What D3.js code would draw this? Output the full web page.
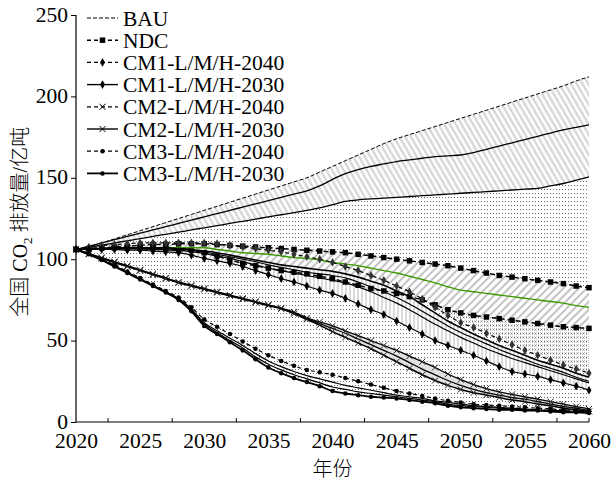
<!DOCTYPE html>
<html>
<head>
<meta charset="utf-8">
<script src="https://cdn.jsdelivr.net/npm/d3@7"></script>
<style>
body{margin:0;background:#fff}
text{font-family:"Liberation Serif","Times New Roman",serif;fill:#000}
</style>
</head>
<body>
<div id="chart"></div>
<script>
var width = 611, height = 484;
var margin = {top: 15, right: 22, bottom: 62, left: 76};

// years on the x axis
var years = [2020,2021,2022,2023,2024,2025,2026,2027,2028,2029,
  2030,2031,2032,2033,2034,2035,2036,2037,2038,2039,
  2040,2041,2042,2043,2044,2045,2046,2047,2048,2049,
  2050,2051,2052,2053,2054,2055,2056,2057,2058,2059,2060];
var xLabels = [2020,2025,2030,2035,2040,2045,2050,2055,2060];
var xTickMarks = [2022.5,2027.5,2032.5,2037.5,2042.5,2047.5,2052.5,2057.5,2060];
var yTicks = [0,50,100,150,200,250];

// BAU range
var bau = [106,107.5,110,112.5,115,117.5,120,122.5,125,127.5,
  130,132.5,135,137.5,140,142.5,145,147.5,150,153.5,
  157,160.5,164,167.5,171,174,176.5,179,181.5,184,
  186.5,189,191.5,194,196.5,199,201.5,204,206.5,209.5,212];
var bauMid = [106,108,110,112,114,116,118,120,122,124,
  126,128,130,132,134,136,138,140,142,145,
  149,152.5,155,157,158.5,160,161,162,163,163.5,
  164,165.5,167.5,169.5,171.5,173.5,175.5,177.5,179.5,181,182.5];
var bauLow = [106,107.3,108.6,110,111.3,112.6,114,115.3,116.6,118,
  119.3,120.6,122,123.3,124.6,126,127.3,128.6,130,131.5,
  133.5,135.5,136.5,137,137.5,138,138.5,139,139.5,140,
  140.5,141,141.5,142,142.5,143,143.5,145,146.5,148.5,150.5];

// NDC range
var ndcHigh = [106,106.5,107,107.5,108,108.5,109,109,109.5,109.5,
  109.5,109,108.5,108,107.5,107,106.5,106,105.5,105,
  104.5,104,103,102,101,100,99,98,97,96,
  94.5,93,91.5,90,89,88,87,86,85,83.5,82.5];
var ndcLow = [106,106.5,107,107,107,107,107,106.5,106,105.5,
  104,102,99.5,97.5,96,94.5,93,92,91,89.5,
  88,86,84,82,80.5,79,77,75,72,69,
  67,65.5,64.5,63.5,62.5,61.5,60.5,59.5,58.5,58,57.5];
var ndcMid = [106,106.3,106.6,107,107,107,107,107,107,107,
  107,106,105,104,103.5,103,102,101,100.5,99.5,
  98,97,96,94.5,93,91.5,89.5,87.5,85.5,83,
  81,80,79,78,77,76,75,74,73,71.5,70.5];

// CM1
var cm1H2040 = [106,107.5,108.5,109,109.5,110,110,110,110,110,
  110,109.5,108.5,107.5,106.5,105.5,104.5,103,101.5,100,
  98,95.5,93,90,87,83.5,80,75.5,70.5,65.5,
  61,58,54.5,51,47.5,44,41,38,35,32.5,30];
var cm1M2040 = [106,106.3,106.6,107,107,107,107,107,106.5,106,
  105,104,102.5,101,99.5,98,96.5,95.5,94.5,93.5,
  92.5,91,89,86.5,84,80.5,77,72,67,62,
  58,54,50.5,47,44,41,38,35.5,33,30,27.5];
var cm1H2030 = [106,106.2,106.4,106.6,106.6,106.6,106.5,106.3,106,105.5,
  104.5,103,101.5,100,98.5,96.5,95,93.5,92,91,
  90,88.5,86,83,80,76.5,72.5,68,63.5,59,
  55,51.5,48,44.5,41.5,38.5,35.5,33,30.5,27.5,25];
var cm1M2030 = [106,106.1,106.2,106.3,106.3,106.2,106,105.7,105.3,104.7,
  103.5,102,100.5,98.5,96.5,94.5,93,91.5,90,88.5,
  87,85.5,83,80,76.5,73,69,64.5,60,56,
  52,48.5,45,42,39,36.5,34,31.5,29,26.5,24];
var cm1L2030 = [106,106,106,106,105.5,105.5,105,104.5,104,102.5,
  100.5,99,97.5,95.5,93,90.5,88,86,83.5,81,
  79,76,72.5,69,66,62,58,54,50,47,
  44,41,37.5,34,31,29.5,28,26,24,22,19.5];

// CM2
var cm2H2040 = [106,103.5,101,98.5,96,93.5,91,88.5,86,84,
  82,80,78,76,74,72,70,67.5,64,61.5,
  59,56,53,50,47,44,40.5,37,33.5,29.5,
  26,23,20.5,18.5,17,15.5,14,12.5,11,9.5,8];
var cm2M2030 = [106,103.2,100.7,98.2,95.7,93.2,90.7,88.2,85.7,83.7,
  81.7,79.7,77.7,75.7,73.7,71.7,69.7,67.2,63.5,60.5,
  57.5,54.5,51,47.5,44,40.5,36.5,32.5,29,25.5,
  22.5,20,18,16.5,15,14,12.5,11,9.5,8.5,7];
var cm2L2030 = [106,103,100.5,98,95.5,93,90.5,88,85.5,83.5,
  81.5,79.5,77.5,75.5,73.5,71.5,69.5,66.5,63,59.5,
  55.5,52,48.5,45,41,37,33,29,25.5,22.5,
  20,18,16.5,15,13.5,12.5,11,10,8.5,7.5,6.5];

// CM3
var cm3H2040 = [106,103.5,100,96.5,92.5,88.5,84.5,80.5,76.5,70.5,
  63,58.5,54,49.5,45,41,37.5,34.5,32,30.5,
  29,27,25,23,21,19,17.5,16,14.5,13,
  12,11,10.5,10,9.5,9,8.5,8,7.5,7,7];
var cm3H2030 = [106,103.2,99.7,96,92,88,84,80,75.8,69.3,
  61,56,51.5,47,42,37.5,34,31,28.5,26.5,
  24.5,22.5,21,19.5,18,16.5,15.5,14.5,13,12,
  11,10,9.5,9,8.5,8,7.5,7,7,6.5,6.5];
var cm3M2030 = [106,103.1,99.6,95.7,91.7,87.7,83.7,79.7,75.4,68.6,
  60,55,50,45.5,40,35.5,32,29,26.5,24,
  21.5,20,18.5,17.5,16.5,15.5,14.5,13.5,12.5,11,
  10,9.5,9,8.5,8,7.5,7,7,6.5,6,6];
var cm3L2030 = [106,103,99.5,95.5,91.5,87.5,83.5,79.5,75,68,
  59,54,49,44,38.5,33.5,30,27,24.5,22,
  19,17.5,16.5,15.5,15,14.5,13.5,12.5,11.5,10,
  9,8.5,8,7.5,7.5,7,7,6.5,6,6,5.5];

var legendNames = ["BAU","NDC","CM1-L/M/H-2040","CM1-L/M/H-2030",
  "CM2-L/M/H-2040","CM2-L/M/H-2030","CM3-L/M/H-2040","CM3-L/M/H-2030"];

var svg = d3.select("#chart").append("svg")
  .attr("width", width)
  .attr("height", height);

var x = d3.scaleLinear().domain([2020, 2060]).range([margin.left, width - margin.right]);
var y = d3.scaleLinear().domain([0, 250]).range([height - margin.bottom, margin.top]);
var curve = d3.curveMonotoneX;
var serif = '"Liberation Serif","Times New Roman",serif';

// fill patterns
var defs = svg.append("defs");
var pDots = defs.append("pattern").attr("id","dots").attr("patternUnits","userSpaceOnUse")
  .attr("width",3).attr("height",4);
pDots.append("rect").attr("x",1).attr("y",1).attr("width",1).attr("height",1).attr("fill","#6a6a6a");

var pFine = defs.append("pattern").attr("id","fine").attr("patternUnits","userSpaceOnUse")
  .attr("width",2).attr("height",2);
pFine.append("rect").attr("width",1).attr("height",1).attr("fill","#c8c8c8");

function hatch(id, angle, gap, sw, color){
  var p = defs.append("pattern").attr("id",id).attr("patternUnits","userSpaceOnUse")
    .attr("width",gap).attr("height",gap)
    .attr("patternTransform","rotate("+angle+")");
  p.append("rect").attr("width",gap).attr("height",gap).attr("fill","#fff");
  p.append("line").attr("x1",gap/2).attr("x2",gap/2).attr("y1",0).attr("y2",gap)
    .attr("stroke",color).attr("stroke-width",sw);
}
hatch("hBau", -30, 5, 2, "#cfcfcf");
hatch("hNdc", 45, 5.5, 2, "#c2c2c2");
hatch("hCm1", 0, 4, 1, "#b8b8b8");

function band(up, lo, fill, from){
  var pts = years.map(function(yr, i){ return {x: yr, a: up[i], b: lo[i]}; })
    .filter(function(d){ return d.x >= from; });
  svg.append("path").datum(pts)
    .attr("fill", fill)
    .attr("d", d3.area().curve(curve)
      .x(function(d){ return x(d.x); })
      .y0(function(d){ return y(d.b); })
      .y1(function(d){ return y(d.a); }));
}

band(bauLow, cm3L2030, "url(#dots)", 2020);
band(bau, bauLow, "url(#hBau)", 2020);
band(ndcHigh, ndcLow, "url(#hNdc)", 2020);
band(ndcLow, cm1H2040, "url(#fine)", 2046);
band(cm1M2040, cm1L2030, "url(#hCm1)", 2020);
band(cm2H2040, cm2L2030, "#e2e2e2", 2020);

// series lines
var marker = {
  square: d3.symbol().type(d3.symbolSquare).size(30),
  diamond: d3.symbol().type(d3.symbolDiamond).size(22),
  cross: d3.symbol().type(d3.symbolX || d3.symbolCross).size(26),
  dot: d3.symbol().type(d3.symbolCircle).size(16)
};

var series = [
  {v: bau, dash: "4,2", w: 1},
  {v: bauMid, dash: null, w: 1.3},
  {v: bauLow, dash: null, w: 1.3},
  {v: ndcHigh, dash: "5,3", w: 1.5, m: "square"},
  {v: ndcLow, dash: "5,3", w: 1.5, m: "square"},
  {v: ndcMid, dash: null, w: 1.4, color: "#3c9a00"},
  {v: cm1H2040, dash: "4,3", w: 1.2, m: "diamond", mc: "#333"},
  {v: cm1M2040, dash: null, w: 1.6},
  {v: cm1H2030, dash: null, w: 1.2},
  {v: cm1M2030, dash: null, w: 1.2},
  {v: cm1L2030, dash: null, w: 1.2, m: "diamond"},
  {v: cm2H2040, dash: null, w: 1.3, m: "cross"},
  {v: cm2M2030, dash: null, w: 1.3},
  {v: cm2L2030, dash: null, w: 1.5, m: "cross"},
  {v: cm3H2040, dash: "4,3", w: 1.2, m: "dot"},
  {v: cm3H2030, dash: null, w: 1.2},
  {v: cm3M2030, dash: null, w: 1.2},
  {v: cm3L2030, dash: null, w: 1.8, m: "dot"}
];

var line = d3.line().curve(curve)
  .x(function(d, i){ return x(years[i]); })
  .y(function(d){ return y(d); });

series.forEach(function(s){
  svg.append("path").datum(s.v)
    .attr("fill","none")
    .attr("stroke", s.color || "#000")
    .attr("stroke-width", s.w)
    .attr("stroke-dasharray", s.dash)
    .attr("d", line);
  if(s.m){
    svg.append("g").selectAll("path")
      .data(s.v)
      .enter()
      .append("path")
      .attr("transform", function(d, i){ return "translate(" + x(years[i]) + "," + y(d) + ")"; })
      .attr("d", marker[s.m])
      .attr("fill", s.m == "cross" ? "none" : (s.mc || "#000"))
      .attr("stroke", s.m == "cross" ? "#222" : "none")
      .attr("stroke-width", 1);
  }
});

// axes
var axisY = svg.append("g")
  .attr("transform","translate(" + margin.left + ",0)")
  .call(d3.axisLeft(y).tickValues(yTicks).tickSize(5).tickPadding(3));
var axisX = svg.append("g")
  .attr("transform","translate(0," + (height - margin.bottom) + ")")
  .call(d3.axisBottom(x).tickValues(xLabels).tickSize(0).tickPadding(11).tickFormat(d3.format("d")));
svg.append("g")
  .attr("transform","translate(0," + (height - margin.bottom) + ")")
  .selectAll("line").data(xTickMarks).enter().append("line")
  .attr("x1", function(d){ return x(d); }).attr("x2", function(d){ return x(d); })
  .attr("y1", 0).attr("y2", -4).attr("stroke","#000").attr("stroke-width",1);

[axisX, axisY].forEach(function(a){
  a.select(".domain").attr("stroke","#000").attr("stroke-width",1.2);
  a.selectAll(".tick line").attr("stroke","#000");
  a.selectAll("text").attr("font-size","21.5px").attr("font-family", serif);
});
axisY.selectAll("text").attr("dy","0.28em");
axisY.select(".domain").attr("d","M0," + y(250) + "V" + y(0));
axisX.select(".domain").attr("d","M" + x(2020) + ",0H" + x(2060));

// axis titles
svg.append("text")
  .attr("x", x(2040)).attr("y", 476)
  .attr("text-anchor","middle")
  .attr("font-size","20px")
  .style("font-family",'"Noto Sans CJK SC",sans-serif')
  .style("font-weight","300")
  .text("年份");

var yt = svg.append("text")
  .attr("transform","translate(27," + y(123) + ") rotate(-90)")
  .attr("text-anchor","middle")
  .attr("font-size","20px")
  .style("font-weight","300")
  .style("font-family",'"Liberation Serif","Noto Sans CJK SC",serif');
yt.append("tspan").text("全国 CO");
yt.append("tspan").attr("font-size","13px").attr("dy","5").text("2");
yt.append("tspan").attr("dy","-5").text(" 排放量/亿吨");

// legend
var legStyle = [
  {dash: "4,2", w: 1},
  {dash: "4,3", w: 1.5, m: "square"},
  {dash: "4,3", w: 1.2, m: "diamond"},
  {dash: null, w: 1.4, m: "diamond"},
  {dash: "4,3", w: 1.2, m: "cross"},
  {dash: null, w: 1.4, m: "cross"},
  {dash: "4,3", w: 1.2, m: "dot"},
  {dash: null, w: 1.8, m: "dot"}
];

var legend = svg.append("g").selectAll("g")
  .data(legendNames)
  .enter()
  .append("g")
  .attr("transform", function(d, i){ return "translate(87," + (18 + i * 22.2) + ")"; });

legend.append("line")
  .attr("x1",0).attr("x2",31).attr("y1",0).attr("y2",0)
  .attr("stroke","#000")
  .attr("stroke-width", function(d, i){ return legStyle[i].w; })
  .attr("stroke-dasharray", function(d, i){ return legStyle[i].dash; });

legend.filter(function(d, i){ return legStyle[i].m; })
  .append("path")
  .attr("transform","translate(15.5,0)")
  .attr("d", function(d){ var i = legendNames.indexOf(d); return marker[legStyle[i].m](); })
  .attr("fill", function(d){ return legStyle[legendNames.indexOf(d)].m == "cross" ? "none" : "#000"; })
  .attr("stroke", function(d){ return legStyle[legendNames.indexOf(d)].m == "cross" ? "#000" : "none"; });

legend.append("text")
  .attr("x", 36)
  .attr("dy","0.35em")
  .attr("font-size","21.5px")
  .text(function(d){ return d; });
</script>
</body>
</html>
